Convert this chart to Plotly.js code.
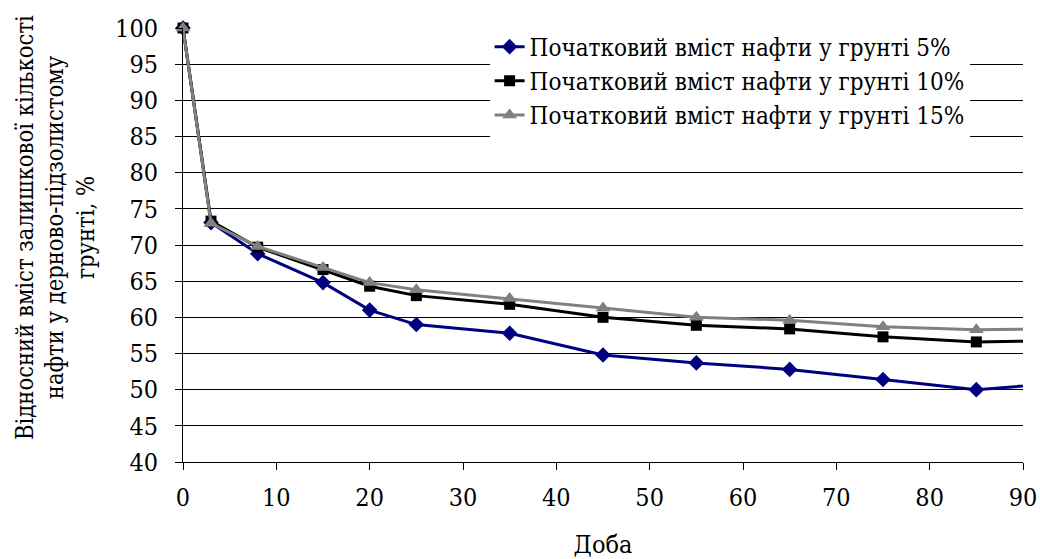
<!DOCTYPE html>
<html>
<head>
<meta charset="utf-8">
<script src="https://cdn.plot.ly/plotly-3.0.1.min.js"></script>
<style>html,body{margin:0;padding:0;background:#fff;}#chart{width:1040px;height:559px;}</style>
</head>
<body>
<div id="chart"></div>
<script>
// Days (last point lies beyond the visible axis end, as in the original)
const days = [0, 3, 8, 15, 20, 25, 35, 45, 55, 65, 75, 85, 95];
const oil5  = [100, 73.1, 68.8, 64.8, 61.0, 59.0, 57.8, 54.8, 53.7, 52.8, 51.4, 50.0, 51.0];
const oil10 = [100, 73.3, 69.7, 66.6, 64.3, 63.0, 61.8, 60.0, 58.9, 58.4, 57.3, 56.6, 56.8];
const oil15 = [100, 73.0, 69.8, 66.9, 64.8, 63.8, 62.6, 61.3, 60.0, 59.6, 58.7, 58.3, 58.4];
const names = [
  'Початковий вміст нафти у грунті 5%',
  'Початковий вміст нафти у грунті 10%',
  'Початковий вміст нафти у грунті 15%'
];
const xTicks = [0, 10, 20, 30, 40, 50, 60, 70, 80, 90];
const yTicks = [40, 45, 50, 55, 60, 65, 70, 75, 80, 85, 90, 95, 100];
const yTitle = 'Відносний вміст залишкової кількості<br>нафти у дерново-підзолистому<br>грунті, %';
const xTitle = 'Доба';

const font = 'DejaVu Serif Condensed, DejaVu Serif';

const traces = [
  {x: days, y: oil5, name: names[0], legendgroup: 'a', mode: 'lines+markers', type: 'scatter', cliponaxis: false,
   line: {color: '#000080', width: 3}, marker: {symbol: 'diamond', size: 12, color: '#000080'}},
  {x: days, y: oil10, name: names[1], legendgroup: 'b', mode: 'lines+markers', type: 'scatter', cliponaxis: false,
   line: {color: '#000000', width: 3}, marker: {symbol: 'square', size: 11, color: '#000000'}},
  {x: days, y: oil15, name: names[2], legendgroup: 'c', mode: 'lines+markers', type: 'scatter', cliponaxis: false,
   line: {color: '#808080', width: 3}, marker: {symbol: 'triangle-up', size: 13, color: '#808080'}}
];

const layout = {
  width: 1040, height: 559,
  margin: {l: 183, r: 17, t: 28, b: 97},
  paper_bgcolor: '#fff', plot_bgcolor: '#fff',
  font: {family: font, size: 24, color: '#000'},
  showlegend: true,
  legend: {x: 0.365, y: 1.008, xanchor: 'left', yanchor: 'top', bgcolor: '#fff',
           font: {family: font, size: 24, color: '#000'}, tracegroupgap: 0,
           traceorder: 'grouped'},
  xaxis: {
    range: [0, 90], tickvals: xTicks, ticktext: xTicks.map(String),
    showgrid: false, zeroline: false, showline: true, linecolor: '#000', linewidth: 1,
    ticks: 'outside', ticklen: 7, tickcolor: '#000', ticklabelstandoff: 6,
    tickfont: {family: font, size: 25},
    title: {text: xTitle, font: {family: font, size: 25}, standoff: 34}
  },
  yaxis: {
    range: [40, 100], tickvals: yTicks, ticktext: yTicks.map(String),
    showgrid: true, gridcolor: '#000', gridwidth: 1, zeroline: false,
    showline: true, linecolor: '#000', linewidth: 1,
    ticks: 'outside', ticklen: 7, tickcolor: '#000', ticklabelstandoff: 12,
    tickfont: {family: font, size: 25}
  },
  annotations: [{
    text: yTitle, xref: 'paper', yref: 'paper', x: -0.152, y: 0.54,
    xanchor: 'center', yanchor: 'middle', textangle: -90, showarrow: false,
    font: {family: font, size: 23.5, color: '#000'}
  }]
};

Plotly.newPlot('chart', traces, layout, {displayModeBar: false, staticPlot: true});
</script>
</body>
</html>
